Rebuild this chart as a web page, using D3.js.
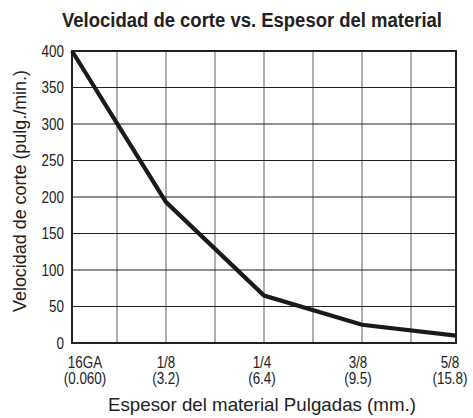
<!DOCTYPE html>
<html>
<head>
<meta charset="utf-8">
<script src="https://cdn.jsdelivr.net/npm/d3@7"></script>
<style>
html,body{margin:0;padding:0;background:#fff;}
svg{display:block;}
</style>
</head>
<body>
<svg id="chart" width="473" height="418"></svg>
<script>
const categories = ["16GA","1/8","1/4","3/8","5/8"];
const categoriesMm = ["(0.060)","(3.2)","(6.4)","(9.5)","(15.8)"];
const gridUnits = [0,2,4,6,8];
const speeds = [400,193,65,25,10];
const yTicks = [0,50,100,150,200,250,300,350,400];
const xGridLines = [1,2,3,4,5,6,7];
const title = "Velocidad de corte vs. Espesor del material";
const xTitle = "Espesor del material Pulgadas (mm.)";
const yTitle = "Velocidad de corte (pulg./min.)";

const svg = d3.select("#chart");
const FONT = "'Liberation Sans Narrow','Liberation Sans',Arial,sans-serif";

const x = d3.scaleLinear().domain([0,1,7,8]).range([72,117,411,456]);
const y = d3.scaleLinear().domain([0,400]).range([343,51]);

function condense(sel, k) {
  sel.each(function(){
    const len = this.getComputedTextLength();
    d3.select(this).attr("textLength", len*k).attr("lengthAdjust","spacingAndGlyphs");
  });
}

// vertical grid
svg.append("g").selectAll("line").data(xGridLines).join("line")
  .attr("x1", d=>x(d)).attr("x2", d=>x(d))
  .attr("y1", y(400)).attr("y2", y(0))
  .attr("stroke","#7a7a7a").attr("stroke-width",1.2);

// horizontal grid
svg.append("g").selectAll("line").data(yTicks.slice(1,-1)).join("line")
  .attr("x1", x(0)).attr("x2", x(8))
  .attr("y1", d=>y(d)).attr("y2", d=>y(d))
  .attr("stroke","#222").attr("stroke-width",1.2);

// frame
svg.append("rect")
  .attr("x", x(0)).attr("y", y(400))
  .attr("width", x(8)-x(0)).attr("height", y(0)-y(400))
  .attr("fill","none").attr("stroke","#222").attr("stroke-width",2);

// y tick labels
svg.append("g").selectAll("text").data(yTicks).join("text")
  .attr("x", 64).attr("y", d=>y(d)).attr("dy","0.36em")
  .attr("text-anchor","end")
  .attr("font-family",FONT).attr("font-size",16).attr("fill","#222")
  .text(d=>d)
  .call(condense, 0.84);

// x tick labels
const labelOffsets = [13,0,-2,-4,-6];
const xl = svg.append("g");
xl.selectAll("text.c").data(categories).join("text").attr("class","c")
  .attr("x",(d,i)=>x(gridUnits[i])+labelOffsets[i]).attr("y",368)
  .attr("text-anchor","middle")
  .attr("font-family",FONT).attr("font-size",16).attr("fill","#222")
  .text(d=>d)
  .call(condense, 0.84);
xl.selectAll("text.m").data(categoriesMm).join("text").attr("class","m")
  .attr("x",(d,i)=>x(gridUnits[i])+labelOffsets[i]).attr("y",384)
  .attr("text-anchor","middle")
  .attr("font-family",FONT).attr("font-size",16).attr("fill","#222")
  .text(d=>d)
  .call(condense, 0.84);

// data line
const line = d3.line().x((d,i)=>x(gridUnits[i])).y(d=>y(d));
svg.append("path").datum(speeds)
  .attr("d", line).attr("fill","none")
  .attr("stroke","#1a1a1a").attr("stroke-width",4.2)
  .attr("stroke-linejoin","miter");

// titles
svg.append("text").attr("x",252).attr("y",27).attr("text-anchor","middle")
  .attr("font-family",FONT).attr("font-weight","bold").attr("font-size",20).attr("fill","#222")
  .attr("textLength",380).attr("lengthAdjust","spacingAndGlyphs")
  .text(title);
svg.append("text").attr("x",262).attr("y",411).attr("text-anchor","middle")
  .attr("font-family",FONT).attr("font-size",19).attr("fill","#222")
  .attr("textLength",308).attr("lengthAdjust","spacingAndGlyphs")
  .text(xTitle);
svg.append("text").attr("transform","translate(26,191) rotate(-90)").attr("text-anchor","middle")
  .attr("font-family",FONT).attr("font-size",19).attr("fill","#222")
  .attr("textLength",242).attr("lengthAdjust","spacingAndGlyphs")
  .text(yTitle);
</script>
</body>
</html>
